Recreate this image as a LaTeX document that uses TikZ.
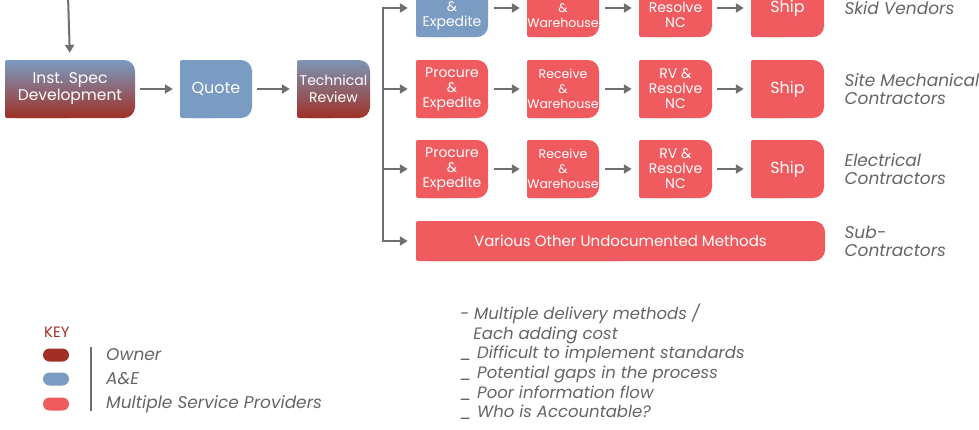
\documentclass[tikz,border=0pt]{standalone}
\usepackage{fontspec}
\setmainfont{Poppins}
\usetikzlibrary{arrows.meta,calc}
\definecolor{aeblue}{RGB}{122,155,194}
\definecolor{spred}{RGB}{239,91,94}
\definecolor{ownred}{RGB}{160,48,38}
\definecolor{arrgray}{RGB}{110,111,113}
\definecolor{labgray}{RGB}{100,101,103}
\tikzset{
  boxtext/.style={text=white,align=center,inner sep=0pt,font=\fontsize{14}{15}\selectfont},
  arr/.style={draw=arrgray,line width=2pt,-{Triangle[length=8pt,width=9pt]}},
  busline/.style={draw=arrgray,line width=2pt},
  sidelab/.style={anchor=west,align=left,text=labgray,font=\fontsize{17}{18}\selectfont\itshape},
  fA/.style={fill=aeblue},
  fS/.style={fill=spred},
  fO/.style={top color=aeblue,bottom color=ownred},
  fT/.style={top color=aeblue!80!gray,bottom color=ownred},
  pill/.style={minimum width=26pt,minimum height=13pt,rounded corners=6.5pt,inner sep=0pt},
  big/.style={font=\fontsize{16}{17}\selectfont},
  rcvf/.style={font=\fontsize{12.5}{15}\selectfont},
}
\newcommand\mybox[8][]{%
  \path[#7,rounded corners=11pt] (#3,#4) rectangle (#5,#6);
  \path[#7,rounded corners=2pt] (#3,#4) rectangle ({(#3+#5)/2},#6);
  \node[boxtext,#1,minimum width={#5-#3},minimum height={#6-#4}] (#2) at ({(#3+#5)/2},{(#4+#6)/2}) {#8};
}
\begin{document}
\begin{tikzpicture}[x=1pt,y=-1pt]
\useasboundingbox (0,0) rectangle (979,429);
\clip (0,0) rectangle (979,429);
% main line
\mybox[font=\fontsize{15.5}{17}\selectfont]{spec}{5}{60}{135}{118}{fO}{Inst. Spec\\Development}
\mybox[big]{quote}{180}{60}{252}{118}{fA}{Quote}
\mybox[font=\fontsize{14}{17}\selectfont]{tech}{297}{60}{370}{118}{fT}{Technical\\Review}
\coordinate (topin) at (68,-5);
\draw[arr,shorten >=7pt] (topin) -- (spec.north);
\draw[arr,shorten <=5pt,shorten >=7pt] (spec.east) -- (quote.west);
\draw[arr,shorten <=5pt,shorten >=7pt] (quote.east) -- (tech.west);
% rows
\mybox{p1}{416}{-21}{488}{37}{fA}{Procure\\\&\\Expedite}
\mybox[rcvf]{r1}{527}{-21}{599}{37}{fS}{Receive\\\&\\Warehouse}
\mybox{v1}{639}{-21}{712}{37}{fS}{RV \&\\Resolve\\NC}
\mybox[big]{s1}{751}{-21}{824}{37}{fS}{Ship}
\mybox{p2}{416}{60}{488}{118}{fS}{Procure\\\&\\Expedite}
\mybox[rcvf]{r2}{527}{60}{599}{118}{fS}{Receive\\\&\\Warehouse}
\mybox{v2}{639}{60}{712}{118}{fS}{RV \&\\Resolve\\NC}
\mybox[big]{s2}{751}{60}{824}{118}{fS}{Ship}
\mybox{p3}{416}{140}{488}{198}{fS}{Procure\\\&\\Expedite}
\mybox[rcvf]{r3}{527}{140}{599}{198}{fS}{Receive\\\&\\Warehouse}
\mybox{v3}{639}{140}{712}{198}{fS}{RV \&\\Resolve\\NC}
\mybox[big]{s3}{751}{140}{824}{198}{fS}{Ship}
\mybox[font=\fontsize{15}{17}\selectfont]{o4}{416}{221}{825}{261}{fS}{Various Other Undocumented Methods}
\foreach \i in {1,2,3}{
  \draw[arr,shorten <=6pt,shorten >=7pt] (p\i.east) -- (r\i.west);
  \draw[arr,shorten <=6pt,shorten >=7pt] (r\i.east) -- (v\i.west);
  \draw[arr,shorten <=5pt,shorten >=7pt] (v\i.east) -- (s\i.west);
}
% bus
\coordinate (b1) at (383,8);
\coordinate (b2) at (383,89);
\coordinate (b3) at (383,169);
\coordinate (b4) at (383,241);
\draw[busline] (b1) -- (b4);
\foreach \i/\t in {1/p1,2/p2,3/p3,4/o4}{
  \draw[arr,shorten >=8pt] ([xshift=-1pt]b\i) -- (\t.west);
}
% side labels
\node[sidelab] (l1) at (841,8) {Skid Vendors};
\node[sidelab] (l2) at (841,89) {Site Mechanical\\Contractors};
\node[sidelab] (l3) at (841,169) {Electrical\\Contractors};
\node[sidelab] (l4) at (841,241) {Sub-\\Contractors};
% key
\node[anchor=west,text=ownred,inner sep=0pt,font=\fontsize{15}{16}\selectfont] (key) at (44,332) {KEY};
\node[pill,fill=ownred] (k1) at (56,355) {};
\node[pill,fill=aeblue] (k2) at (56,379) {};
\node[pill,fill=spred] (k3) at (56,404) {};
\coordinate (kt) at (91,347);
\coordinate (kb) at (91,411);
\draw[draw=arrgray,line width=1.2pt] (kt) -- (kb);
\node[sidelab,inner sep=0pt] (kl1) at (106,355) {Owner};
\node[sidelab,inner sep=0pt] (kl2) at (106,379) {A\&E};
\node[sidelab,inner sep=0pt] (kl3) at (106,404) {Multiple Service Providers};
% notes
\node[anchor=north west,align=left,inner sep=0pt,text=labgray,font=\fontsize{16.5}{19.6}\selectfont\itshape] (notes) at (460,304) {%
- Multiple delivery methods /\\
\hspace*{0.8em}Each adding cost\\
\_ Difficult to implement standards\\
\_ Potential gaps in the process\\
\_ Poor information flow\\
\_ Who is Accountable?};
\end{tikzpicture}
\end{document}
